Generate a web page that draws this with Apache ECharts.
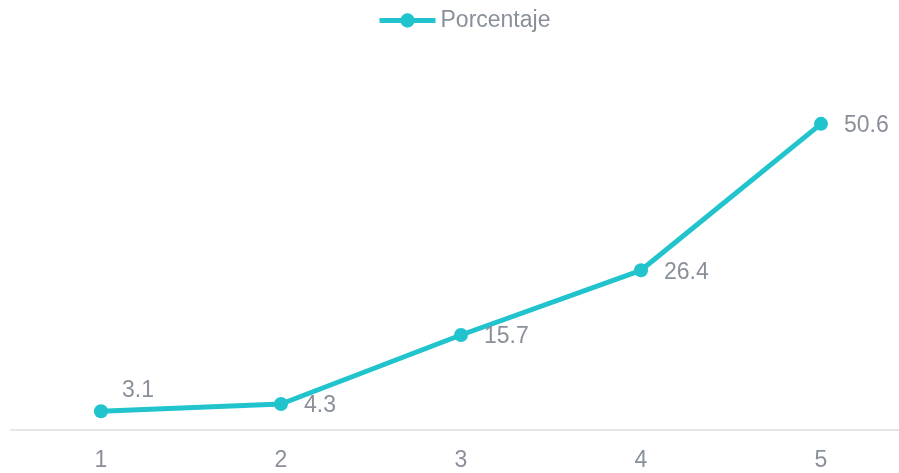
<!DOCTYPE html>
<html>
<head>
<meta charset="utf-8">
<script src="https://cdn.jsdelivr.net/npm/echarts@6/dist/echarts.min.js"></script>
<style>
  html, body { margin: 0; padding: 0; background: #ffffff; overflow: hidden; }
  /* canvas is a little wider than the window so the last category is cut at the edge */
  #chart { width: 920px; height: 473px; }
</style>
</head>
<body>
<div id="chart"></div>
<script>
// Categories along the x axis
const categories = ['1', '2', '3', '4', '5'];
// Percentage per category
const porcentaje = [3.1, 4.3, 15.7, 26.4, 50.6];
const seriesName = 'Porcentaje';

const teal = '#21c3cc';
const grey = '#8a909a';
const font = 'Liberation Sans, Arial, sans-serif';

const chart = echarts.init(document.getElementById('chart'));

// First label sits above-right of its point so it clears the line
const seriesData = porcentaje.map((v, i) => i === 0
  ? { value: v, label: { offset: [-2, -21] } }
  : v);

chart.setOption({
  animation: false,
  legend: {
    data: [seriesName],
    top: 4,
    left: 372,
    itemWidth: 56,
    itemHeight: 18,
    itemGap: 4,
    lineStyle: { width: 5 },
    textStyle: { color: grey, fontSize: 23, fontFamily: font }
  },
  grid: { left: 11, width: 900, top: 67, bottom: 43, containLabel: false },
  xAxis: {
    type: 'category',
    data: categories,
    boundaryGap: true,
    axisLine: { lineStyle: { color: '#e6e6e6', width: 2 } },
    axisTick: { show: false },
    axisLabel: { color: grey, fontSize: 23, margin: 19, fontFamily: font },
    splitLine: { show: false }
  },
  yAxis: {
    type: 'value',
    min: 0,
    max: 60,
    show: false,
    splitLine: { show: false }
  },
  series: [{
    name: seriesName,
    type: 'line',
    data: seriesData,
    symbol: 'circle',
    symbolSize: 14,
    itemStyle: { color: teal },
    lineStyle: { color: teal, width: 5 },
    label: {
      show: true,
      position: 'right',
      distance: 16,
      offset: [0, 2],
      color: grey,
      fontSize: 23,
      fontFamily: font
    }
  }]
});
</script>
</body>
</html>
